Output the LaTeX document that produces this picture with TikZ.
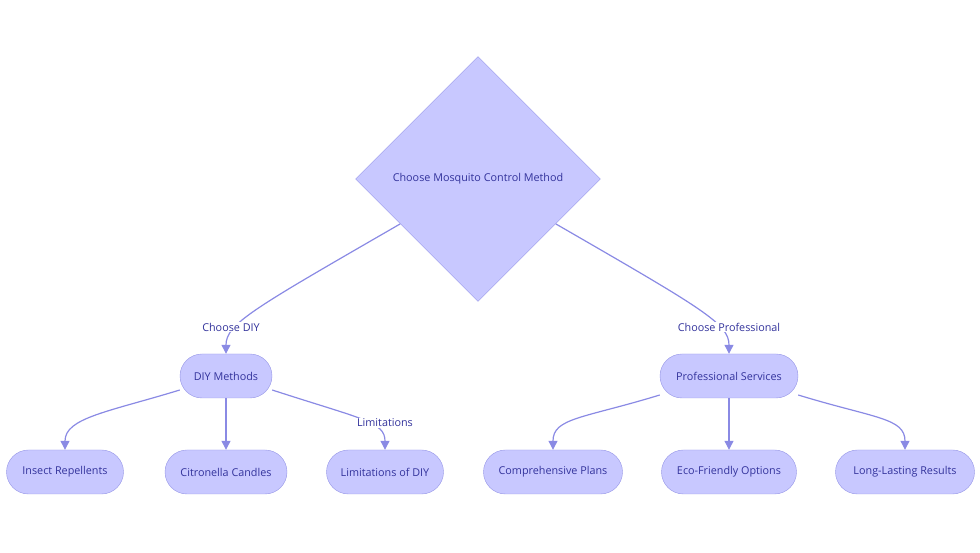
\documentclass[tikz,border=0pt]{standalone}
\usepackage{fontspec}
\setmainfont{Open Sans}
\usepackage{tikz}
\usetikzlibrary{arrows.meta,positioning,shapes.geometric,shapes.misc}
\definecolor{boxfill}{HTML}{C8C8FF}
\definecolor{boxline}{HTML}{9595E6}
\definecolor{linkcol}{HTML}{8A8AE4}
\definecolor{txtcol}{HTML}{33339C}
\tikzset{
  decision/.style={
    diamond, aspect=1, draw=boxline, fill=boxfill, inner sep=0pt,
    minimum width=245pt, minimum height=245pt, align=center,
    font=\fontsize{10.8}{12}\selectfont, text=txtcol
  },
  method/.style={
    rounded rectangle, draw=boxline, fill=boxfill, inner sep=0pt,
    minimum height=44pt, align=center,
    font=\fontsize{10.8}{12}\selectfont, text=txtcol
  },
  lbl/.style={
    fill=white, inner sep=1pt, font=\fontsize{10.8}{12}\selectfont, text=txtcol
  },
  arrow/.style={-{Triangle[length=9pt,width=9pt]}, line width=1.2pt, linkcol},
}

\begin{document}
\begin{tikzpicture}[x=1pt, y=1pt]
    \useasboundingbox (0,0) rectangle (980,553);
    \node[decision] (choose) at (478,374) {Choose Mosquito Control Method};
    \node[method, minimum width=92pt] (diy) at (226,177) {DIY Methods};
    \node[method, minimum width=138pt] (pro) at (729,177) {Professional Services};
    \node[method, minimum width=117pt] (insect) at (65,81) {Insect Repellents};
    \node[method, minimum width=122pt] (candles) at (226,81) {Citronella Candles};
    \node[method, minimum width=117pt] (limits) at (385,81) {Limitations of DIY};
    \node[method, minimum width=139pt] (plans) at (553,81) {Comprehensive Plans};
    \node[method, minimum width=135pt] (eco) at (729,81) {Eco-Friendly Options};
    \node[method, minimum width=139pt] (lasting) at (905,81) {Long-Lasting Results};
    % top level branches
    \draw[arrow] (choose.210) .. controls +(210:170) and +(90:30) .. (diy.north);
    \draw[arrow] (choose.330) .. controls +(330:170) and +(90:30) .. (pro.north);
    % DIY branch
    \draw[arrow] ([yshift=-14pt]diy.west) .. controls +(197:75) and +(90:32) .. (insect.north);
    \draw[arrow] (diy.south) -- (candles.north);
    \draw[arrow] ([yshift=-14pt]diy.east) .. controls +(342:95) and +(90:28) .. (limits.north);
    % professional branch
    \draw[arrow] ([yshift=-19pt]pro.west) .. controls +(197:80) and +(90:32) .. (plans.north);
    \draw[arrow] (pro.south) -- (eco.north);
    \draw[arrow] ([yshift=-19pt]pro.east) .. controls +(343:80) and +(90:32) .. (lasting.north);
    \node[lbl] (l1) at (231,226) {Choose DIY};
    \node[lbl] (l2) at (729,226) {Choose Professional};
    \node[lbl] (l3) at (385,130) {Limitations};
  \end{tikzpicture}
\end{document}
